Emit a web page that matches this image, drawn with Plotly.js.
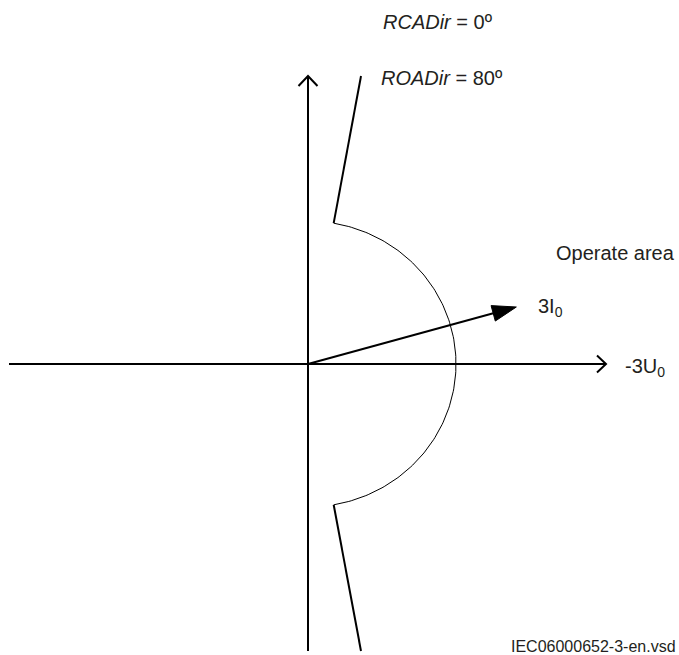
<!DOCTYPE html>
<html>
<head>
<meta charset="utf-8">
<script src="https://cdn.plot.ly/plotly-3.0.1.min.js"></script>
<style>html,body{margin:0;padding:0;background:#fff;}#chart{width:679px;height:655px;}</style>
</head>
<body>
<div id="chart"></div>
<script>
// ---- Diagram values (units: drawing units, origin at the axes crossing) ----
const rcaDirDeg = [0];            // RCADir
const roaDirDeg = [80];           // ROADir (arc half-angle)
const uAxisX = [-299, 298];       // -3U0 reference axis extent
const vAxisY = [-287, 288];       // vertical axis extent
const arcRadius = [148, 143];     // operate-area arc radii (x, y)
const boundaryOuterX = [53, 53];  // outer ends of the ROADir boundary lines
const boundaryOuterY = [288, -287];
const currentAngleDeg = [15.3];   // 3I0 angle
const currentMag = [216];         // 3I0 length
const labels = ["<i>RCADir</i> = 0º", "<i>ROADir</i> = 80º", "Operate area", "3I<sub>0</sub>", "-3U<sub>0</sub>", "IEC06000652-3-en.vsd"];

const d2r = Math.PI / 180;
const black = "#000000";
const txt = "#231f20";

// arc of operate area from +ROADir to -ROADir
const roa = roaDirDeg[0];
const arcX = [], arcY = [];
for (let a = roa; a >= -roa; a -= 1) {
  arcX.push(arcRadius[0] * Math.cos(a * d2r));
  arcY.push(arcRadius[1] * Math.sin(a * d2r));
}
const topArc = [arcX[0], arcY[0]];
const botArc = [arcX[arcX.length - 1], arcY[arcY.length - 1]];

// 3I0 vector
const ca = (currentAngleDeg[0] + rcaDirDeg[0]) * d2r;
const tip = [currentMag[0] * Math.cos(ca), currentMag[0] * Math.sin(ca)];
const headLen = 24, headHalf = 8;
const base = [tip[0] - headLen * Math.cos(ca), tip[1] - headLen * Math.sin(ca)];
const nrm = [-Math.sin(ca), Math.cos(ca)];

// open chevrons
const hTip = [uAxisX[1], 0];
const vTip = [0, vAxisY[1]];

const traces = [
  {x: uAxisX, y: [0, 0], mode: "lines", line: {color: black, width: 2}},
  {x: [0, 0], y: vAxisY, mode: "lines", line: {color: black, width: 2}},
  {x: [hTip[0] - 9, hTip[0], hTip[0] - 9], y: [8.5, 0, -8.5], mode: "lines", line: {color: black, width: 2}},
  {x: [-9.5, 0, 9.5], y: [vTip[1] - 10, vTip[1], vTip[1] - 10], mode: "lines", line: {color: black, width: 2}},
  {x: arcX, y: arcY, mode: "lines", line: {color: black, width: 1}},
  {x: [boundaryOuterX[0], topArc[0]], y: [boundaryOuterY[0], topArc[1]], mode: "lines", line: {color: black, width: 2}},
  {x: [botArc[0], boundaryOuterX[1]], y: [botArc[1], boundaryOuterY[1]], mode: "lines", line: {color: black, width: 2}},
  {x: [0, base[0] + 2 * Math.cos(ca)], y: [0, base[1] + 2 * Math.sin(ca)], mode: "lines", line: {color: black, width: 2}},
  {x: [tip[0], base[0] + headHalf * nrm[0], base[0] - headHalf * nrm[0], tip[0]],
   y: [tip[1], base[1] + headHalf * nrm[1], base[1] - headHalf * nrm[1], tip[1]],
   mode: "lines", fill: "toself", fillcolor: black, line: {color: black, width: 1}}
];

const f = {family: "Liberation Sans, Arial, sans-serif", size: 20, color: txt};
const ann = (text, x, y, xa, size) => ({
  text: text, x: x, y: y, xref: "x", yref: "y", showarrow: false,
  xanchor: xa, yanchor: "middle", font: Object.assign({}, f, size ? {size: size} : {})
});

const layout = {
  width: 679, height: 655,
  margin: {l: 0, r: 0, t: 0, b: 0},
  paper_bgcolor: "#ffffff", plot_bgcolor: "#ffffff",
  showlegend: false,
  xaxis: {range: [-308, 371], visible: false, fixedrange: true},
  yaxis: {range: [-291, 364], visible: false, fixedrange: true},
  annotations: [
    ann(labels[0], 73, 342, "left"),
    ann(labels[1], 71, 286, "left"),
    ann(labels[2], 369, 111, "right"),
    ann(labels[3], 228, 57, "left"),
    ann(labels[4], 315, -3, "left"),
    ann(labels[5], 370, -282, "right", 16)
  ]
};

Plotly.newPlot("chart", traces, layout, {staticPlot: true, displayModeBar: false});
</script>
</body>
</html>
